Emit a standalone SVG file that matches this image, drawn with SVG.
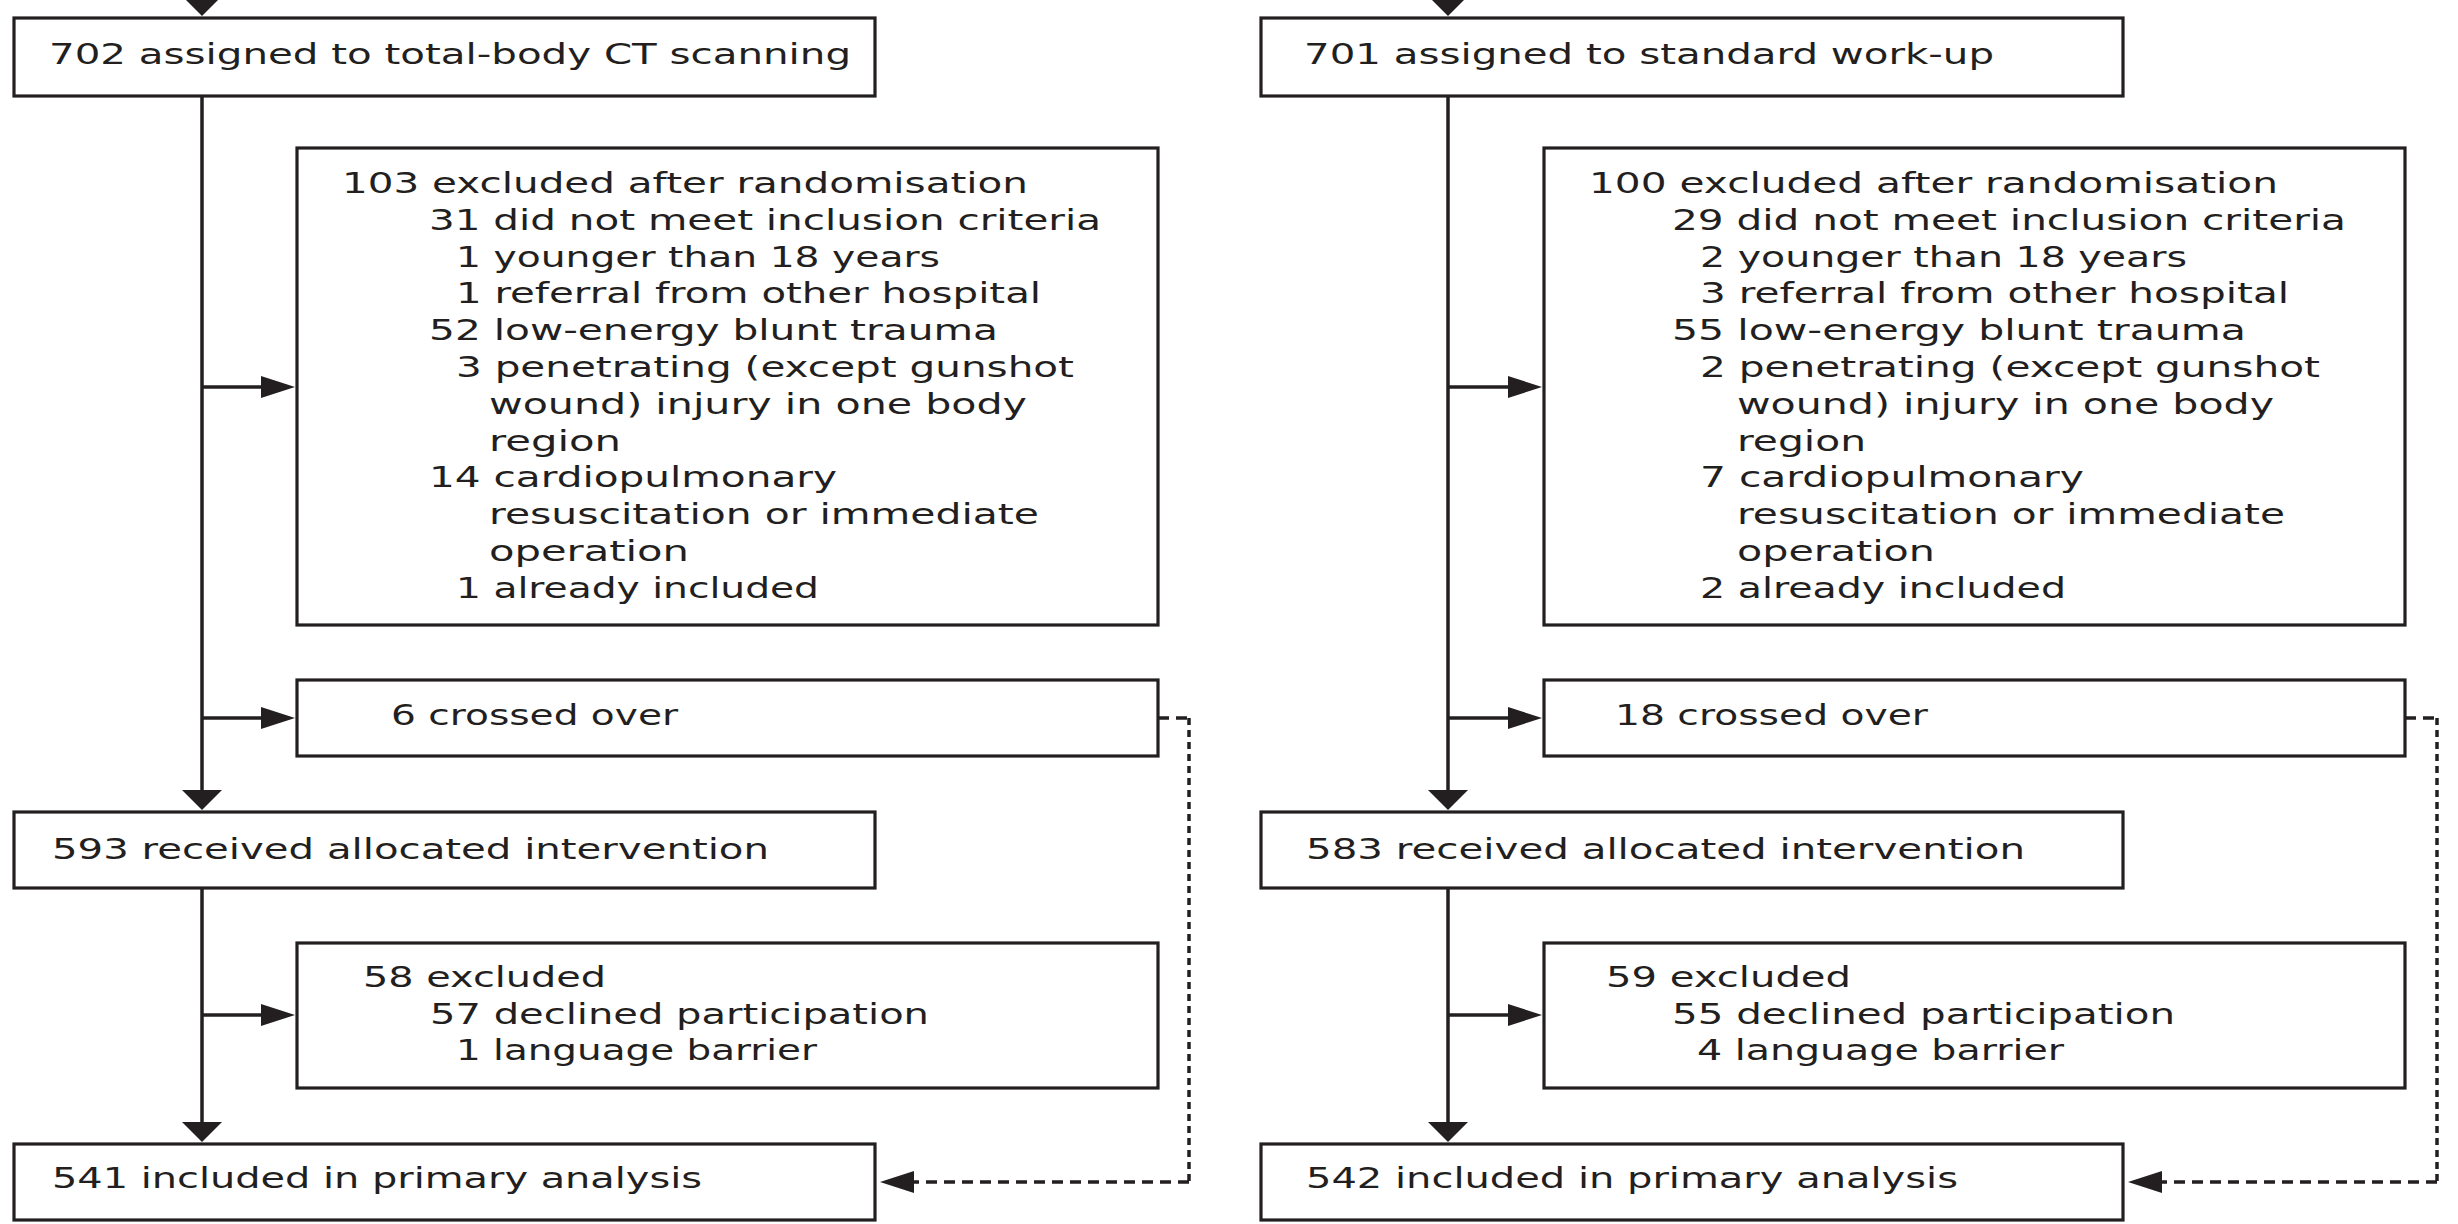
<svg xmlns="http://www.w3.org/2000/svg" width="2458" height="1224" viewBox="0 0 2458 1224">
<defs>
<style>
.box{fill:#fff;stroke:#231f20;stroke-width:3.2}
.t{font-family:"DejaVu Sans","Liberation Sans",sans-serif;font-size:29px;fill:#231f20}
.ln{fill:none;stroke:#231f20;stroke-width:3.5}
.dh{fill:none;stroke:#231f20;stroke-width:3.5;stroke-dasharray:11 7}
.dv{fill:none;stroke:#231f20;stroke-width:3.5;stroke-dasharray:7 5}
</style>
<marker id="av" markerUnits="userSpaceOnUse" markerWidth="20" markerHeight="40" refX="14" refY="20" orient="auto" overflow="visible">
<path d="M0,0 L20,20 L0,40 z" fill="#231f20"/>
</marker>
<marker id="ah" markerUnits="userSpaceOnUse" markerWidth="34" markerHeight="22" refX="26" refY="11" orient="auto" overflow="visible">
<path d="M0,0 L34,11 L0,22 z" fill="#231f20"/>
</marker>
</defs>
<rect width="2458" height="1224" fill="#fff"/>

<g id="connectors">
<path class="ln" d="M202,-30 V10" marker-end="url(#av)"/>
<path class="ln" d="M202,96 V804" marker-end="url(#av)"/>
<path class="ln" d="M202,888 V1136" marker-end="url(#av)"/>
<path class="ln" d="M202,387 H287" marker-end="url(#ah)"/>
<path class="ln" d="M202,718 H287" marker-end="url(#ah)"/>
<path class="ln" d="M202,1015 H287" marker-end="url(#ah)"/>
<path class="ln" d="M1448,-30 V10" marker-end="url(#av)"/>
<path class="ln" d="M1448,96 V804" marker-end="url(#av)"/>
<path class="ln" d="M1448,888 V1136" marker-end="url(#av)"/>
<path class="ln" d="M1448,387 H1534" marker-end="url(#ah)"/>
<path class="ln" d="M1448,718 H1534" marker-end="url(#ah)"/>
<path class="ln" d="M1448,1015 H1534" marker-end="url(#ah)"/>
<path class="dh" d="M1158,718 H1189"/>
<path class="dv" d="M1189,718 V1182"/>
<path class="dh" d="M1189,1182 H888" marker-end="url(#ah)"/>
<path class="dh" d="M2405,718 H2437"/>
<path class="dv" d="M2437,718 V1182"/>
<path class="dh" d="M2437,1182 H2136" marker-end="url(#ah)"/>
</g>

<g id="assigned-ct">
<rect class="box" x="14" y="18" width="861" height="78"/>
<text class="t" x="49" y="64" textLength="802" lengthAdjust="spacingAndGlyphs">702 assigned to total-body CT scanning</text>
</g>
<g id="excluded-ct">
<rect class="box" x="297" y="148" width="861" height="477"/>
<text class="t" x="342" y="193" textLength="686" lengthAdjust="spacingAndGlyphs">103 excluded after randomisation</text>
<text class="t" x="429" y="230" textLength="672" lengthAdjust="spacingAndGlyphs">31 did not meet inclusion criteria</text>
<text class="t" x="456" y="267" textLength="484" lengthAdjust="spacingAndGlyphs">1 younger than 18 years</text>
<text class="t" x="456" y="303" textLength="585" lengthAdjust="spacingAndGlyphs">1 referral from other hospital</text>
<text class="t" x="429" y="340" textLength="569" lengthAdjust="spacingAndGlyphs">52 low-energy blunt trauma</text>
<text class="t" x="456" y="377" textLength="618" lengthAdjust="spacingAndGlyphs">3 penetrating (except gunshot</text>
<text class="t" x="489" y="414" textLength="538" lengthAdjust="spacingAndGlyphs">wound) injury in one body</text>
<text class="t" x="489" y="451" textLength="132" lengthAdjust="spacingAndGlyphs">region</text>
<text class="t" x="429" y="487" textLength="408" lengthAdjust="spacingAndGlyphs">14 cardiopulmonary</text>
<text class="t" x="489" y="524" textLength="550" lengthAdjust="spacingAndGlyphs">resuscitation or immediate</text>
<text class="t" x="489" y="561" textLength="200" lengthAdjust="spacingAndGlyphs">operation</text>
<text class="t" x="456" y="598" textLength="363" lengthAdjust="spacingAndGlyphs">1 already included</text>
</g>
<g id="crossed-ct">
<rect class="box" x="297" y="680" width="861" height="76"/>
<text class="t" x="391" y="725" textLength="287" lengthAdjust="spacingAndGlyphs">6 crossed over</text>
</g>
<g id="received-ct">
<rect class="box" x="14" y="812" width="861" height="76"/>
<text class="t" x="52" y="859" textLength="717" lengthAdjust="spacingAndGlyphs">593 received allocated intervention</text>
</g>
<g id="excluded2-ct">
<rect class="box" x="297" y="943" width="861" height="145"/>
<text class="t" x="363" y="987" textLength="243" lengthAdjust="spacingAndGlyphs">58 excluded</text>
<text class="t" x="430" y="1024" textLength="499" lengthAdjust="spacingAndGlyphs">57 declined participation</text>
<text class="t" x="456" y="1060" textLength="361" lengthAdjust="spacingAndGlyphs">1 language barrier</text>
</g>
<g id="included-ct">
<rect class="box" x="14" y="1144" width="861" height="76"/>
<text class="t" x="52" y="1188" textLength="650" lengthAdjust="spacingAndGlyphs">541 included in primary analysis</text>
</g>

<g id="assigned-std">
<rect class="box" x="1261" y="18" width="862" height="78"/>
<text class="t" x="1304" y="64" textLength="690" lengthAdjust="spacingAndGlyphs">701 assigned to standard work-up</text>
</g>
<g id="excluded-std">
<rect class="box" x="1544" y="148" width="861" height="477"/>
<text class="t" x="1589" y="193" textLength="689" lengthAdjust="spacingAndGlyphs">100 excluded after randomisation</text>
<text class="t" x="1672" y="230" textLength="674" lengthAdjust="spacingAndGlyphs">29 did not meet inclusion criteria</text>
<text class="t" x="1700" y="267" textLength="487" lengthAdjust="spacingAndGlyphs">2 younger than 18 years</text>
<text class="t" x="1700" y="303" textLength="589" lengthAdjust="spacingAndGlyphs">3 referral from other hospital</text>
<text class="t" x="1672" y="340" textLength="574" lengthAdjust="spacingAndGlyphs">55 low-energy blunt trauma</text>
<text class="t" x="1700" y="377" textLength="620" lengthAdjust="spacingAndGlyphs">2 penetrating (except gunshot</text>
<text class="t" x="1737" y="414" textLength="537" lengthAdjust="spacingAndGlyphs">wound) injury in one body</text>
<text class="t" x="1737" y="451" textLength="129" lengthAdjust="spacingAndGlyphs">region</text>
<text class="t" x="1700" y="487" textLength="384" lengthAdjust="spacingAndGlyphs">7 cardiopulmonary</text>
<text class="t" x="1737" y="524" textLength="548" lengthAdjust="spacingAndGlyphs">resuscitation or immediate</text>
<text class="t" x="1737" y="561" textLength="198" lengthAdjust="spacingAndGlyphs">operation</text>
<text class="t" x="1700" y="598" textLength="366" lengthAdjust="spacingAndGlyphs">2 already included</text>
</g>
<g id="crossed-std">
<rect class="box" x="1544" y="680" width="861" height="76"/>
<text class="t" x="1615" y="725" textLength="313" lengthAdjust="spacingAndGlyphs">18 crossed over</text>
</g>
<g id="received-std">
<rect class="box" x="1261" y="812" width="862" height="76"/>
<text class="t" x="1306" y="859" textLength="719" lengthAdjust="spacingAndGlyphs">583 received allocated intervention</text>
</g>
<g id="excluded2-std">
<rect class="box" x="1544" y="943" width="861" height="145"/>
<text class="t" x="1606" y="987" textLength="245" lengthAdjust="spacingAndGlyphs">59 excluded</text>
<text class="t" x="1672" y="1024" textLength="503" lengthAdjust="spacingAndGlyphs">55 declined participation</text>
<text class="t" x="1697" y="1060" textLength="367" lengthAdjust="spacingAndGlyphs">4 language barrier</text>
</g>
<g id="included-std">
<rect class="box" x="1261" y="1144" width="862" height="76"/>
<text class="t" x="1306" y="1188" textLength="652" lengthAdjust="spacingAndGlyphs">542 included in primary analysis</text>
</g>
</svg>
